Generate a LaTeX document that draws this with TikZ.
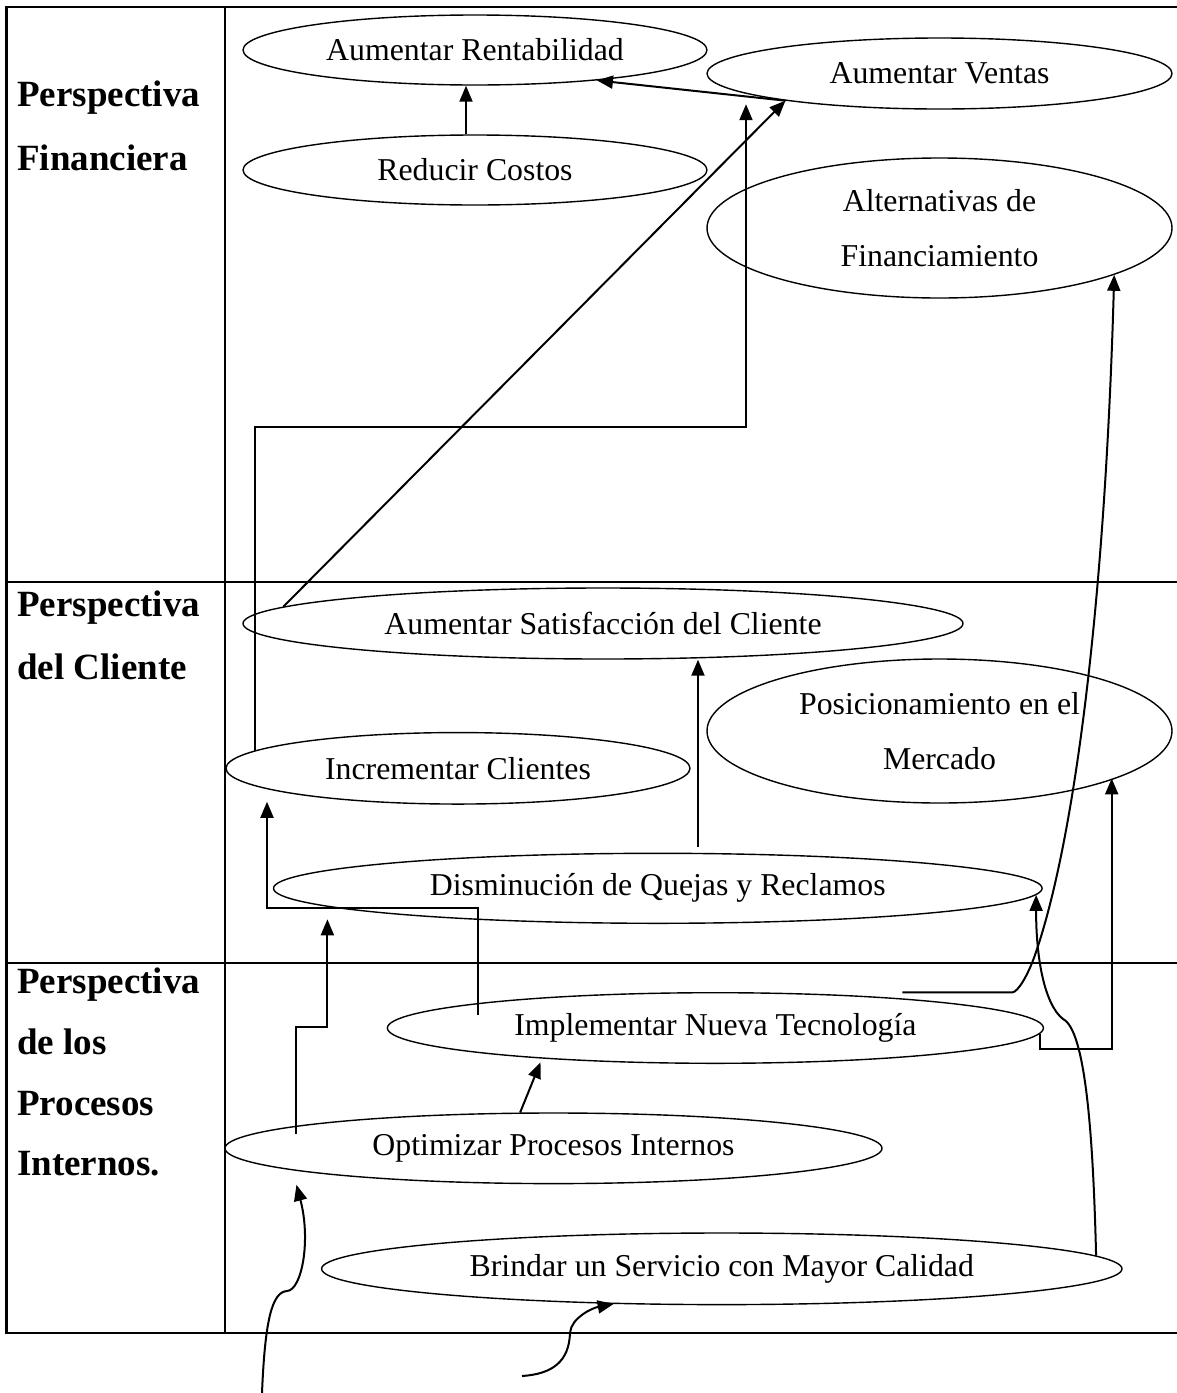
\documentclass[tikz,border=0pt]{standalone}
\usepackage{fontspec}
\setmainfont{Liberation Serif}
\usetikzlibrary{shapes.geometric,arrows.meta,calc}

\begin{document}
\begin{tikzpicture}[x=1pt,y=-1pt,
  goal/.style={ellipse,draw,line width=1.4pt,inner sep=0pt,align=center,
    font=\fontsize{31.8}{55}\selectfont},
  conn/.style={line width=2pt},
  arr/.style={conn,-{Triangle[length=16pt,width=13pt]}},
  grid/.style={line width=2.2pt},
  persp/.style={anchor=base west,inner sep=0pt,font=\bfseries\fontsize{37}{44}\selectfont}]

\useasboundingbox (0,0) rectangle (1177,1393);

% table frame and rows
\draw[grid] (1177,6.7) -- (6.5,6.7) -- (6.5,1333) -- (1177,1333);
\draw[grid] (225,6.7) -- (225,1333);
\draw[grid] (6.5,581.7) -- (1177,581.7);
\draw[grid] (6.5,962.7) -- (1177,962.7);

% perspective labels
\node[persp] (pfa) at (17,106) {Perspectiva};
\node[persp] (pfb) at (17,170) {Financiera};
\node[persp] (pca) at (17,616) {Perspectiva};
\node[persp] (pcb) at (17,679) {del Cliente};
\node[persp] (ppa) at (17,993) {Perspectiva};
\node[persp] (ppb) at (17,1054) {de los};
\node[persp] (ppc) at (17,1115) {Procesos};
\node[persp] (ppd) at (17,1175) {Internos.};

% objectives
\node[goal,minimum width=464pt,minimum height=70pt] (rent) at (475,50) {Aumentar Rentabilidad};
\node[goal,minimum width=465pt,minimum height=71pt] (ventas) at (939.5,73.5) {Aumentar Ventas};
\node[goal,minimum width=464pt,minimum height=70pt] (reducir) at (475,170) {Reducir Costos};
\node[goal,minimum width=465pt,minimum height=140pt] (alt) at (939.5,228) {Alternativas de\\Financiamiento};
\node[goal,minimum width=720pt,minimum height=71pt] (satis) at (603,623.5) {Aumentar Satisfacción del Cliente};
\node[goal,minimum width=465pt,minimum height=144pt] (posic) at (939.5,731) {Posicionamiento en el\\Mercado};
\node[goal,minimum width=464pt,minimum height=71.5pt] (incr) at (458,768.3) {Incrementar Clientes};
\node[goal,minimum width=768.6pt,minimum height=70pt] (dism) at (657.8,888.3) {Disminución de Quejas y Reclamos};
\node[goal,minimum width=656pt,minimum height=70.6pt] (impl) at (715.4,1028) {Implementar Nueva Tecnología};
\node[goal,minimum width=657pt,minimum height=70.6pt] (opt) at (553.5,1148.3) {Optimizar Procesos Internos};
\node[goal,minimum width=800.4pt,minimum height=71.6pt] (brindar) at (721.8,1268.8) {Brindar un Servicio con Mayor Calidad};

% bend points and loose ends
\coordinate (elbowA) at (746,427.3);
\coordinate (elbowB) at (267,907.7);
\coordinate (elbowC) at (327.4,1027.3);
\coordinate (elbowD) at (1111.7,1049.3);
\coordinate (srcA) at (262,1393);
\coordinate (srcB) at (522,1376);

% financial links
\draw[arr] ([xshift=-9pt]reducir.north) -- ([xshift=-9pt]rent.south);
\draw[arr] (ventas.190) -- (rent.-14);
\draw[arr] (satis.177.5) -- (ventas.190);
\draw[arr] (incr.175.7) |- (elbowA) -- ($(elbowA |- ventas.south)+(0,-5.5)$);

% customer links
\coordinate (dq) at ($(dism.north)+(40.2,-6)$);
\draw[arr] (dq) -- (dq |- satis.south);
\draw[arr] ($(impl.174.3)+(0,12)$) |- (elbowB) -- ($(elbowB |- incr.south)+(0,-3)$);
\draw[arr] ($(opt.175.8)+(0,8)$) |- (elbowC) -- ($(elbowC |- dism.south)+(0,-4.7)$);
\draw[arr] (impl.-1.7) |- (elbowD) -- (elbowD |- posic.-15.7);

% internal process links
\draw[arr,shorten >=4pt] (opt.133.8) -- (impl.190.5);
\draw[arr] (srcA) .. controls (265,1320) and (272,1292) .. (287,1291)
  .. controls (302,1290) and (311,1240) .. ($(opt.185.6)+(0,14)$);
\draw[arr] (srcB) .. controls (552,1374) and (569,1362) .. (570,1333)
  .. controls (571,1318) and (592,1308) .. (brindar.198.3);
\draw[arr] (brindar.2) .. controls (1093,1130) and (1085,1030) .. (1063,1019)
  .. controls (1045,1005) and (1036,960) .. (dism.-1);
\draw[arr] ([yshift=6pt]impl.9.7) -- ++(110,0)
  .. controls (1018,992) and (1028,975) .. (1035,955)
  .. controls (1075,840) and (1105,600) .. (alt.-15.2);

\end{tikzpicture}
\end{document}
